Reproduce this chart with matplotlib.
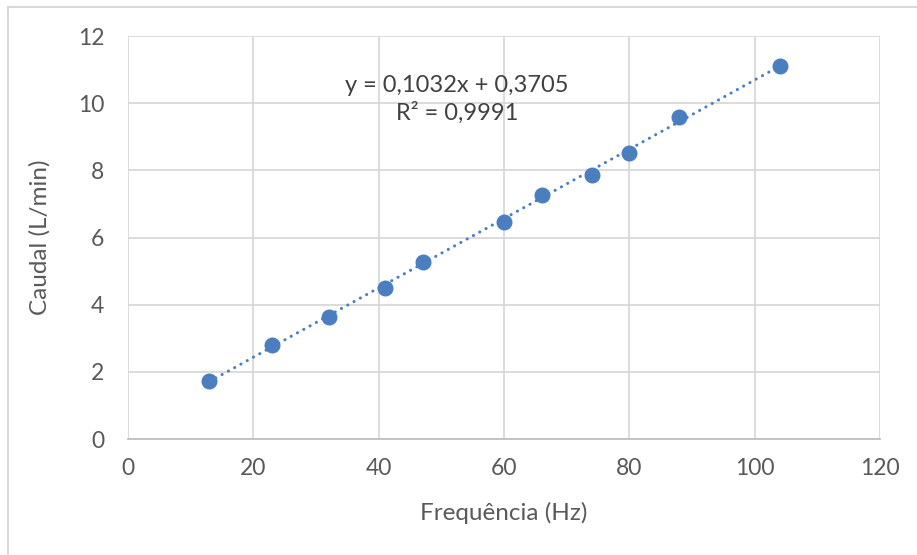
import numpy as np
import matplotlib
matplotlib.use("Agg")
import matplotlib.pyplot as plt
from matplotlib.lines import Line2D

plt.rcParams['font.family'] = ['Lato', 'DejaVu Sans']

# Measured flow vs. frequency
frequencia = [13, 23, 32, 41, 47, 60, 66, 74, 80, 88, 104]
caudal = [1.73, 2.81, 3.64, 4.50, 5.27, 6.47, 7.28, 7.87, 8.52, 9.58, 11.12]

# Linear trendline coefficients
slope = 0.1032
intercept = 0.3705
r2 = 0.9991

x_ticks = [0, 20, 40, 60, 80, 100, 120]
y_ticks = [0, 2, 4, 6, 8, 10, 12]

blue = '#4A7EBF'
text_col = '#595959'

fig = plt.figure(figsize=(9.17, 5.55), dpi=100)
ax = fig.add_axes([128 / 917, 1 - 439 / 555, (880 - 128) / 917, (439 - 36) / 555])

# chart border
fig.add_artist(Line2D([8 / 917, 1], [1 - 7 / 555, 1 - 7 / 555], color='#D9D9D9', lw=1.5,
                      transform=fig.transFigure))
fig.add_artist(Line2D([8 / 917, 8 / 917], [0, 1 - 7 / 555], color='#D9D9D9', lw=1.5,
                      transform=fig.transFigure))

ax.set_xlim(x_ticks[0], x_ticks[-1])
ax.set_ylim(y_ticks[0], y_ticks[-1])
ax.set_xticks(x_ticks)
ax.set_yticks(y_ticks)
ax.grid(True, color='#D9D9D9', lw=1.3)
ax.set_axisbelow(True)
for s in ['left', 'top', 'right']:
    ax.spines[s].set_visible(False)
ax.spines['bottom'].set_color('#BFBFBF')
ax.spines['bottom'].set_linewidth(1.3)
ax.tick_params(length=0, labelsize=16.5, colors=text_col)
ax.tick_params(axis='x', pad=14)
ax.tick_params(axis='y', pad=17)

# trendline
tx = np.array([min(frequencia), max(frequencia)])
ax.plot(tx, slope * tx + intercept, color=blue, lw=2.2,
        linestyle=(0, (0.05, 2.3)), dash_capstyle='round', zorder=2)

ax.plot(frequencia, caudal, 'o', color=blue, markersize=10.5, zorder=3)

eq = f"y = {slope:.4f}x + {intercept:.4f}".replace('.', ',')
r2txt = f"R² = {r2:.4f}".replace('.', ',')
ax.text(52.5, 10.54, eq, ha='center', va='center', fontsize=17, color='#404040')
ax.text(52.5, 9.71, r2txt, ha='center', va='center', fontsize=17, color='#404040')

ax.set_xlabel('Frequência (Hz)', fontsize=17.5, color=text_col, labelpad=16)
ax.set_ylabel('Caudal (L/min)', fontsize=17.5, color=text_col, labelpad=20)

fig.savefig('out.png', dpi=100, facecolor='white')
